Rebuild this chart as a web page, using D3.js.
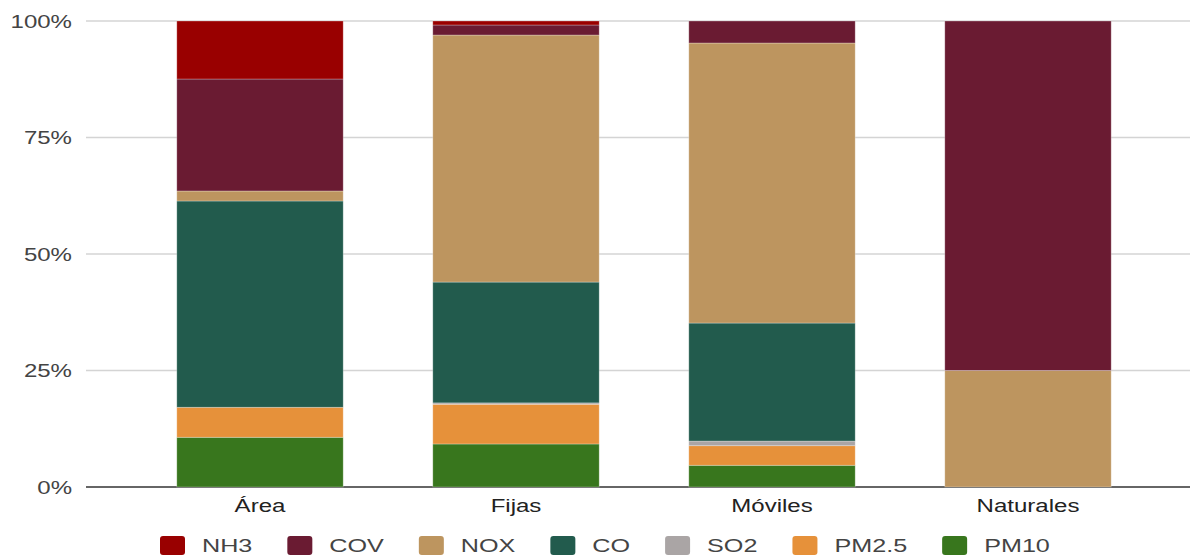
<!DOCTYPE html>
<html>
<head>
<meta charset="utf-8">
<script src="https://cdn.jsdelivr.net/npm/d3@7"></script>
<style>
  body { margin: 0; background: #fff; }
  text { font-family: "Liberation Sans", Arial, sans-serif; fill: #444; }
</style>
</head>
<body>
<svg width="1190" height="556"></svg>
<script>
// data (percent of each source)
const sources = ["Área", "Fijas", "Móviles", "Naturales"];
const pollutants = ["PM10", "PM2.5", "SO2", "CO", "NOX", "COV", "NH3"]; // bottom -> top
const legendOrder = ["NH3", "COV", "NOX", "CO", "SO2", "PM2.5", "PM10"];
const colors = ["#38761d", "#e6913a", "#aaa5a5", "#225b4d", "#bd955f", "#6a1b32", "#990000"];

const PM10 = [10.67, 9.23, 4.66, 0];
const PM25 = [6.44, 8.52, 4.2, 0];
const SO2 = [0, 0.3, 1.0, 0];
const CO = [44.27, 25.92, 25.32, 0];
const NOX = [2.15, 53.0, 60.09, 25];
const COV = [24.03, 2.15, 4.72, 75];
const NH3 = [12.45, 0.86, 0, 0];

const yTicks = [0, 0.25, 0.5, 0.75, 1];

const table = sources.map((s, i) => ({
    source: s,
    "PM10": PM10[i], "PM2.5": PM25[i], "SO2": SO2[i], "CO": CO[i],
    "NOX": NOX[i], "COV": COV[i], "NH3": NH3[i]
}));

const svg = d3.select("svg");
const sx = 1.3; // the labels in the picture are stretched sideways

const x = d3.scaleBand()
    .domain(sources)
    .range([132, 1156])
    .paddingInner(0.35)
    .paddingOuter(0.175);

const y = d3.scaleLinear().domain([0, 1]).range([487, 21]);

const color = d3.scaleOrdinal().domain(pollutants).range(colors);

const series = d3.stack()
    .keys(pollutants)
    .offset(d3.stackOffsetExpand)(table);

// gridlines
svg.append("g")
    .selectAll("line")
    .data(yTicks)
    .enter()
    .append("line")
    .attr("x1", 86)
    .attr("x2", 1190)
    .attr("y1", d => y(d))
    .attr("y2", d => y(d))
    .style("stroke", d => d === 0 ? "#333" : "#d4d4d4")
    .style("stroke-width", d => d === 0 ? 1.5 : 1.3);

// y labels
svg.append("g")
    .selectAll("text")
    .data(yTicks)
    .enter()
    .append("text")
    .attr("transform", d => `translate(72,${y(d) + 6.5}) scale(${sx},1)`)
    .attr("text-anchor", "end")
    .style("font-size", "18.5px")
    .text(d => d3.format(".0%")(d));

// bars (skip empty segments)
svg.append("g")
    .selectAll("g")
    .data(series)
    .enter()
    .append("g")
    .attr("fill", d => color(d.key))
    .selectAll("rect")
    .data(d => d.filter(p => p[1] - p[0] > 0))
    .enter()
    .append("rect")
    .attr("x", d => x(d.data.source))
    .attr("width", x.bandwidth())
    .attr("y", d => y(d[1]))
    .attr("height", d => y(d[0]) - y(d[1]))
    .style("stroke", "rgba(255,255,255,0.35)")
    .style("stroke-width", 0.8);

// x labels
svg.append("g")
    .selectAll("text")
    .data(sources)
    .enter()
    .append("text")
    .attr("transform", d => `translate(${x(d) + x.bandwidth() / 2},512) scale(${sx},1)`)
    .attr("text-anchor", "middle")
    .style("font-size", "18.5px")
    .style("fill", "#222")
    .text(d => d);

// legend
const legend = svg.append("g");
const lsx = 1.36;
let lx = 160;
legendOrder.forEach(k => {
    legend.append("rect")
        .attr("x", lx)
        .attr("y", 536)
        .attr("width", 25)
        .attr("height", 19)
        .attr("rx", 3)
        .attr("fill", color(k));
    const t = legend.append("text")
        .attr("transform", `translate(${lx + 42},552) scale(${lsx},1)`)
        .style("font-size", "18.5px")
        .style("fill", "#444")
        .text(k);
    lx += 42 + t.node().getComputedTextLength() * lsx + 35;
});
</script>
</body>
</html>
